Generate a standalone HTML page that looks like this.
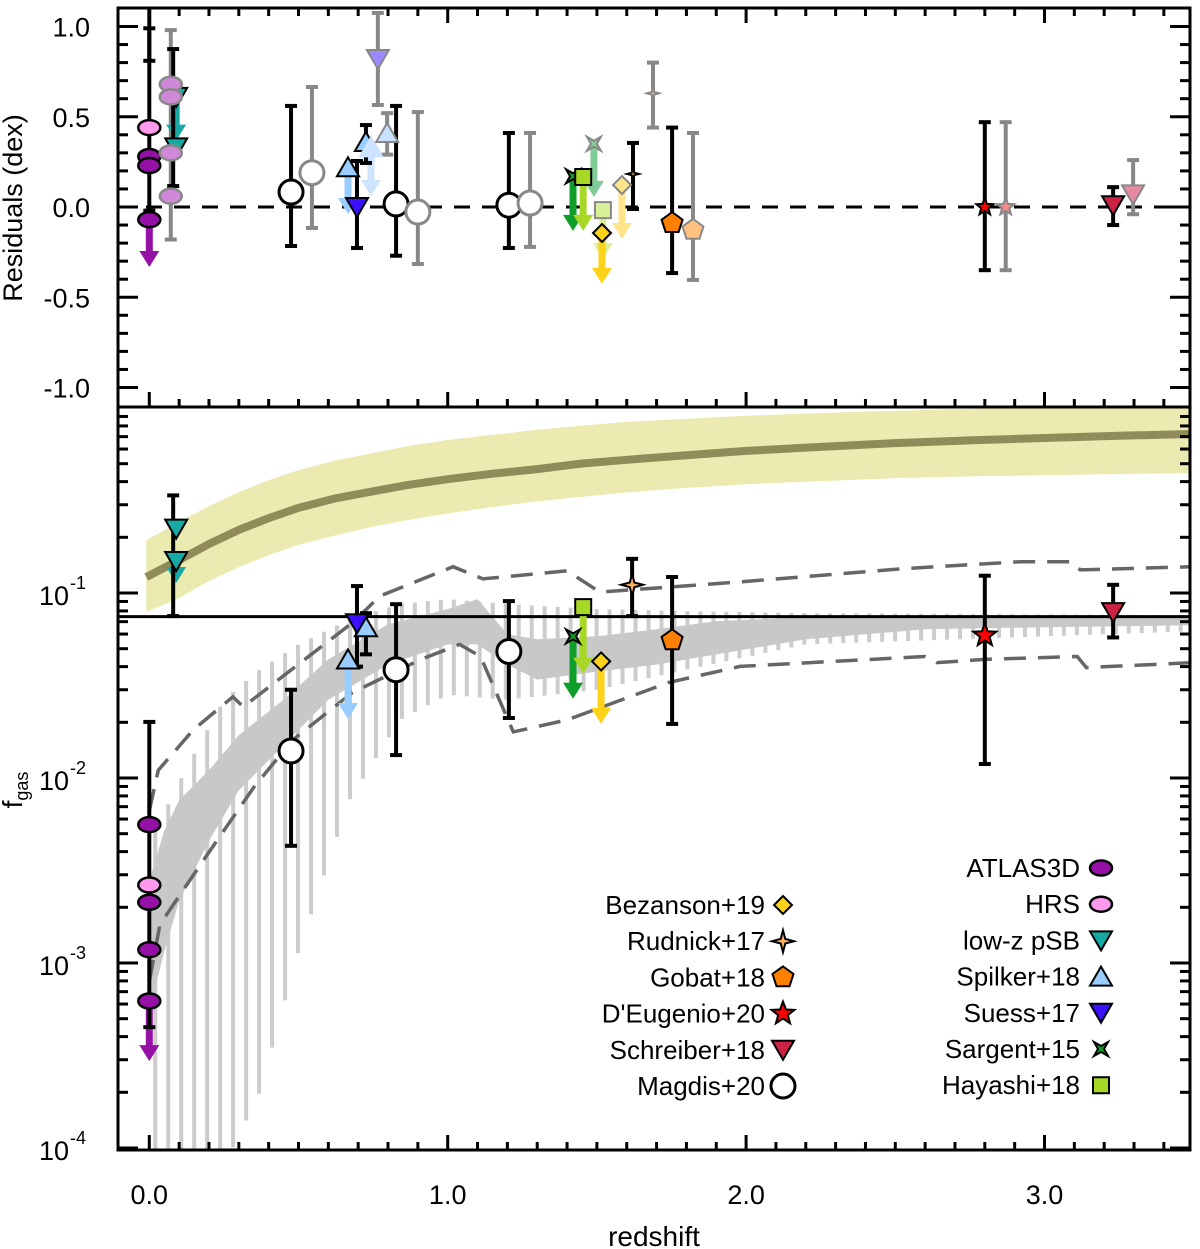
<!DOCTYPE html>
<html><head><meta charset="utf-8"><style>
html,body{margin:0;padding:0;background:#fff;}
svg{display:block;font-family:"Liberation Sans",Arial,sans-serif;}
</style></head><body>
<svg id="chart" width="1200" height="1249" viewBox="0 0 1200 1249" xmlns="http://www.w3.org/2000/svg">
<defs>
<clipPath id="clipTop"><rect x="118" y="8" width="1072" height="399"/></clipPath>
<clipPath id="clipBot"><rect x="118" y="407" width="1072" height="743"/></clipPath>
</defs>
<g id="gTop" clip-path="url(#clipTop)"></g>
<g id="gBot" clip-path="url(#clipBot)"></g>
<g id="gAxes"></g>
<g id="gLegend"></g>
</svg>
<script>
// ---------- data: lower panel (fgas) ----------
const lowZ   = [0.09, 0.09, 0, 0, 0, 0, 0, 0.475, 0.827, 1.205, 0.666, 0.726, 0.696, 1.42, 1.454, 1.514, 1.618, 1.752, 2.80, 3.23];
const lowF   = [0.223, 0.149, 0.0056, 0.00264, 0.00213, 0.00118, 0.000623, 0.0140, 0.0385, 0.0483, 0.0437, 0.0653, 0.0687, 0.0583, 0.0839, 0.0427, 0.1107, 0.0555, 0.059, 0.0788];
const lowMk  = ['tridown','tridown','ellipse','ellipse','ellipse','ellipse','ellipse','circle','circle','circle','triup','triup','tridown','sargent','square','diamond','star4','pentagon','star5','tridown'];
const lowSet = ['pSB','pSB','ATLAS3D','HRS','ATLAS3D','ATLAS3D','ATLAS3D','Magdis','Magdis','Magdis','Spilker','Spilker','Suess','Sargent','Hayashi','Bezanson','Rudnick','Gobat','DEugenio','Schreiber'];
const lowErrZ  = [0.08, 0, 0.475, 0.827, 1.205, 0.726, 0.696, 1.618, 1.752, 2.80, 3.23];
const lowErrLo = [0.075, 0.00045, 0.0043, 0.0133, 0.0211, 0.0466, 0.040, 0.075, 0.0196, 0.0119, 0.0575];
const lowErrHi = [0.337, 0.0201, 0.030, 0.087, 0.0904, 0.0778, 0.109, 0.153, 0.122, 0.124, 0.1107];
const lowArrZ    = [0.09, 0, 0.666, 1.42, 1.454, 1.514];
const lowArrFrom = [0.149, 0.000623, 0.0437, 0.0583, 0.0839, 0.0427];
const lowArrTo   = [0.119, 0.00031, 0.0219, 0.0282, 0.0385, 0.0206];
const lowArrSet  = ['pSB','ATLAS3D','Spilker','Sargent','Hayashi','Bezanson'];
const fgasLine = 0.0745;
// model band (log10 fgas)
const modelZ   = [-0.01, 0.1, 0.2, 0.3, 0.4, 0.5, 0.62, 0.75, 0.87, 1.0, 1.15, 1.3, 1.45, 1.6, 1.8, 2.0, 2.25, 2.5, 2.75, 3.0, 3.25, 3.5];
const modelMid = [-0.914, -0.822, -0.735, -0.659, -0.595, -0.540, -0.490, -0.450, -0.415, -0.385, -0.355, -0.330, -0.300, -0.280, -0.255, -0.232, -0.210, -0.190, -0.175, -0.162, -0.150, -0.140];
const modelHi  = [-0.714, -0.616, -0.530, -0.455, -0.390, -0.336, -0.285, -0.243, -0.205, -0.173, -0.145, -0.118, -0.095, -0.075, -0.058, -0.042, -0.027, -0.015, -0.005, 0.002, 0.005, 0.007];
const modelLo  = [-1.103, -1.027, -0.935, -0.860, -0.795, -0.740, -0.690, -0.641, -0.605, -0.570, -0.535, -0.505, -0.480, -0.456, -0.432, -0.412, -0.395, -0.379, -0.370, -0.363, -0.357, -0.352];
// simulation band (log10 fgas)
const simZ   = [0, 0.05, 0.1, 0.2, 0.3, 0.45, 0.6, 0.8, 1.0, 1.1, 1.2, 1.3, 1.5, 1.7, 1.9, 2.2, 2.6, 3.0, 3.5];
const simHi  = [-2.557, -2.285, -2.121, -1.958, -1.768, -1.577, -1.359, -1.169, -1.087, -1.033, -1.223, -1.250, -1.234, -1.196, -1.152, -1.131, -1.125, -1.125, -1.125];
const simLo  = [-3.265, -2.938, -2.666, -2.339, -2.067, -1.822, -1.577, -1.387, -1.278, -1.278, -1.387, -1.468, -1.425, -1.387, -1.332, -1.250, -1.196, -1.185, -1.174];
const simBarZ  = [0.02, 0.12, 0.25, 0.37, 0.5, 0.67, 0.84, 1.0, 1.2, 1.5, 1.8, 2.2, 3.5];
const simBarHi = [-2.285, -1.958, -1.577, -1.414, -1.278, -1.142, -1.06, -1.033, -1.06, -1.087, -1.098, -1.109, -1.120];
const simBarLo = [-4.1, -4.1, -4.1, -3.70, -2.938, -2.121, -1.686, -1.55, -1.577, -1.523, -1.414, -1.278, -1.207];
const dashUpZ = [0.0, 0.03, 0.147, 0.28, 0.315, 0.683, 0.773, 1.018, 1.118, 1.40, 1.51, 1.98, 2.52, 2.92, 3.09, 3.12, 3.5];
const dashUpL = [-2.176, -1.958, -1.740, -1.561, -1.615, -1.158, -1.016, -0.858, -0.924, -0.880, -0.995, -0.940, -0.869, -0.831, -0.831, -0.875, -0.858];
const dashLoZ = [0.0, 0.036, 0.18, 0.35, 0.48, 0.68, 0.91, 1.04, 1.11, 1.22, 1.40, 1.74, 1.98, 2.60, 2.64, 2.80, 3.11, 3.14, 3.5];
const dashLoL = [-3.10, -2.791, -2.448, -2.051, -1.795, -1.539, -1.359, -1.278, -1.343, -1.751, -1.686, -1.484, -1.397, -1.343, -1.376, -1.359, -1.343, -1.403, -1.376];

// ---------- data: upper panel (residuals) ----------
const resBlackZ  = [0, 0, 0.08, 0.475, 0.696, 0.726, 0.827, 1.205, 1.621, 1.752, 2.80, 3.23];
const resBlackLo = [-0.02, 0.81, 0.116, -0.216, -0.227, 0.244, -0.27, -0.227, -0.011, -0.366, -0.35, -0.10];
const resBlackHi = [1.2, 0.99, 0.875, 0.56, 0.255, 0.454, 0.56, 0.41, 0.355, 0.44, 0.47, 0.11];
const resGreyZ  = [0.072, 0.545, 0.797, 0.766, 0.90, 1.276, 1.688, 1.822, 2.87, 3.297];
const resGreyLo = [-0.18, -0.116, 0.29, 0.565, -0.316, -0.221, 0.44, -0.404, -0.35, -0.04];
const resGreyHi = [0.98, 0.665, 0.52, 1.075, 0.526, 0.41, 0.80, 0.41, 0.47, 0.26];
const resZ   = [0, 0, 0, 0, 0.09, 0.09, 0.475, 0.827, 1.205, 0.666, 0.726, 0.696, 1.42, 1.454, 1.517, 1.621, 1.752, 2.80, 3.23,
                0.072, 0.072, 0.072, 0.072, 0.545, 0.90, 1.276, 0.743, 0.797, 0.766, 1.49, 1.52, 1.584, 1.688, 1.822, 2.87, 3.297];
const resR   = [0.44, 0.28, 0.23, -0.07, 0.61, 0.33, 0.083, 0.017, 0.01, 0.22, 0.36, 0.0, 0.17, 0.166, -0.144, 0.183, -0.089, 0.0, 0.01,
                0.68, 0.61, 0.30, 0.06, 0.19, -0.028, 0.022, 0.33, 0.41, 0.82, 0.35, -0.017, 0.122, 0.63, -0.127, 0.0, 0.07];
const resMk  = ['ellipse','ellipse','ellipse','ellipse','tridown','tridown','circle','circle','circle','triup','triup','tridown','sargent','square','diamond','star4s','pentagon','star5s','tridown',
                'ellipse','ellipse','ellipse','ellipse','circle','circle','circle','triup','triup','tridown','sargent','square','diamond','star4s','pentagon','star5s','tridown'];
const resSet = ['HRS','ATLAS3D','ATLAS3D','ATLAS3D','pSB','pSB','Magdis','Magdis','Magdis','Spilker','Spilker','Suess','Sargent','Hayashi','Bezanson','Rudnick','Gobat','DEugenio','Schreiber',
                'gATLAS','gATLAS','gATLAS','gATLAS','gMagdis','gMagdis','gMagdis','gSpilker2','gSpilker','gSuess','gSargent','gHayashi','gBezanson','gRudnick','gGobat','gDEugenio','gSchreiber'];
const resArrZ    = [0, 0.09, 0.666, 0.743, 1.42, 1.454, 1.49, 1.52, 1.517, 1.584];
const resArrFrom = [-0.07, 0.61, 0.22, 0.33, 0.17, 0.166, 0.35, -0.017, -0.144, 0.122];
const resArrTo   = [-0.31, 0.39, -0.017, 0.083, -0.11, -0.11, 0.078, -0.266, -0.404, -0.155];
const resArrSet  = ['ATLAS3D','pSB','Spilker','gSpilker2','Sargent','Hayashi','gSargent','gHayashi','Bezanson','gBezanson'];

// legend
const legLeft  = ['Bezanson+19','Rudnick+17','Gobat+18',"D'Eugenio+20",'Schreiber+18','Magdis+20'];
const legLeftMk = ['diamond','star4','pentagon','star5','tridown','circle'];
const legLeftSet = ['Bezanson','Rudnick','Gobat','DEugenio','Schreiber','Magdis'];
const legRight = ['ATLAS3D','HRS','low-z pSB','Spilker+18','Suess+17','Sargent+15','Hayashi+18'];
const legRightMk = ['ellipse','ellipse','tridown','triup','tridown','sargent','square'];
const legRightSet = ['ATLAS3D','HRS','pSB','Spilker','Suess','Sargent','Hayashi'];

// ---------- styles ----------
const STY = {
  ATLAS3D:{f:'#9510a5',s:'#000'}, HRS:{f:'#ff99ee',s:'#000'}, pSB:{f:'#17aaa5',s:'#000'},
  Spilker:{f:'#99ccff',s:'#000'}, Suess:{f:'#3a10ff',s:'#000'}, Sargent:{f:'#0e9e2a',s:'#000'},
  Hayashi:{f:'#a8d826',s:'#000'}, Bezanson:{f:'#ffd21a',s:'#000'}, Rudnick:{f:'#ffb060',s:'#000'},
  Gobat:{f:'#ff8000',s:'#000'}, DEugenio:{f:'#ff0000',s:'#000'}, Schreiber:{f:'#cc2244',s:'#000'},
  Magdis:{f:'#fff',s:'#000'},
  gATLAS:{f:'#d088d8',s:'#888'}, gMagdis:{f:'#fff',s:'#888'}, gSpilker:{f:'#c8e2ff',s:'#888'},
  gSpilker2:{f:'#cce4ff',s:'#cce4ff'}, gSuess:{f:'#9f88ff',s:'#888'}, gSargent:{f:'#80cc98',s:'#888'},
  gHayashi:{f:'#d8f09a',s:'#888'}, gBezanson:{f:'#ffe48c',s:'#888'}, gRudnick:{f:'#ffc080',s:'#888'},
  gGobat:{f:'#ffc080',s:'#888'}, gDEugenio:{f:'#ff8888',s:'#888'}, gSchreiber:{f:'#e58aa0',s:'#888'}
};
const ARRC = {ATLAS3D:'#9510a5', pSB:'#17aaa5', Spilker:'#99ccff', gSpilker2:'#cce4ff', Sargent:'#0e9e2a',
  Hayashi:'#a8d826', gSargent:'#80cc98', gHayashi:'#d8f09a', Bezanson:'#ffd21a', gBezanson:'#ffe48c'};

// ---------- scales ----------
const X = z => 149.3 + z * 298.4;
const YT = r => 207 - r * 180.5;
const YL = l => 593 - (l + 1) * 185;
const YB = f => YL(Math.log10(f));

const NS = 'http://www.w3.org/2000/svg';
function el(parent, tag, attrs, name) {
  const e = document.createElementNS(NS, tag);
  for (const k in attrs) e.setAttribute(k, attrs[k]);
  
  
  parent.appendChild(e);
  return e;
}
const gTop = document.getElementById('gTop');
const gBot = document.getElementById('gBot');
const gAx = document.getElementById('gAxes');
const gLeg = document.getElementById('gLegend');

function marker(g, type, cx, cy, st, name) {
  const sw = 2;
  let p;
  if (type === 'ellipse') return el(g, 'ellipse', {cx, cy, rx: 11, ry: 7.5, fill: st.f, stroke: st.s, 'stroke-width': 2.5}, name);
  if (type === 'circle') return el(g, 'circle', {cx, cy, r: 12, fill: st.f, stroke: st.s, 'stroke-width': 3}, name);
  if (type === 'tridown') p = [[cx-11,cy-9],[cx+11,cy-9],[cx,cy+10]];
  else if (type === 'triup') p = [[cx-11,cy+9],[cx+11,cy+9],[cx,cy-10]];
  else if (type === 'diamond') p = [[cx,cy-9],[cx+9,cy],[cx,cy+9],[cx-9,cy]];
  else if (type === 'square') p = [[cx-8,cy-8],[cx+8,cy-8],[cx+8,cy+8],[cx-8,cy+8]];
  else if (type === 'star4' || type === 'star4s') {
    const R = type === 'star4' ? 11 : 6, r = R * 0.3; p = [];
    for (let i = 0; i < 8; i++) { const a = i * Math.PI / 4 - Math.PI/2, rr = i % 2 ? r : R; p.push([cx + rr*Math.cos(a), cy + rr*Math.sin(a)]); }
  } else if (type === 'star5' || type === 'star5s') {
    const R = type === 'star5' ? 12 : 9, r = R * 0.42; p = [];
    for (let i = 0; i < 10; i++) { const a = i * Math.PI / 5 - Math.PI/2, rr = i % 2 ? r : R; p.push([cx + rr*Math.cos(a), cy + rr*Math.sin(a)]); }
  } else if (type === 'pentagon') {
    p = []; for (let i = 0; i < 5; i++) { const a = i * 2*Math.PI/5 - Math.PI/2; p.push([cx + 11*Math.cos(a), cy + 11*Math.sin(a)]); }
  } else if (type === 'sargent') {
    p = [[cx-7,cy-7],[cx,cy-3],[cx+7,cy-7],[cx+3,cy],[cx+7,cy+7],[cx,cy+3],[cx-7,cy+7],[cx-3,cy]];
  }
  return el(g, 'polygon', {points: p.map(q => q[0].toFixed(1)+','+q[1].toFixed(1)).join(' '), fill: st.f, stroke: st.s, 'stroke-width': sw, 'stroke-linejoin': 'miter'}, name);
}
function errbar(g, x, y1, y2, col, name) {
  el(g, 'line', {x1: x, x2: x, y1, y2, stroke: col, 'stroke-width': 4}, name);
  el(g, 'line', {x1: x-6, x2: x+6, y1, y2: y1, stroke: col, 'stroke-width': 4}, name + '-cap-top');
  el(g, 'line', {x1: x-6, x2: x+6, y1: y2, y2, stroke: col, 'stroke-width': 4}, name + '-cap-bottom');
}
function arrow(g, x, y1, y2, col, name) {
  el(g, 'line', {x1: x, x2: x, y1, y2: y2 - 8, stroke: col, 'stroke-width': 7}, name);
  el(g, 'polygon', {points: `${x-10},${y2-12} ${x+10},${y2-12} ${x},${y2+4}`, fill: col}, name + '-head');
}
function interp(xs, ys, x) {
  if (x <= xs[0]) return ys[0];
  for (let i = 1; i < xs.length; i++) if (x <= xs[i]) { const t = (x - xs[i-1]) / (xs[i] - xs[i-1]); return ys[i-1] + t * (ys[i] - ys[i-1]); }
  return ys[ys.length-1];
}

// ---------- lower panel ----------
{
  let d = modelZ.map((z,i) => (i?'L':'M') + X(z).toFixed(1) + ',' + YL(modelHi[i]).toFixed(1)).join(' ');
  for (let i = modelZ.length - 1; i >= 0; i--) d += ' L' + X(modelZ[i]).toFixed(1) + ',' + YL(modelLo[i]).toFixed(1);
  el(gBot, 'path', {d: d + ' Z', fill: '#ebeab0'}, 'model-band');
  el(gBot, 'path', {d: modelZ.map((z,i) => (i?'L':'M') + X(z).toFixed(1) + ',' + YL(modelMid[i]).toFixed(1)).join(' '), fill: 'none', stroke: '#8f8c5a', 'stroke-width': 8, 'stroke-linejoin': 'round'}, 'model-line');
}
for (let z = 0.02; z <= 3.5; z += 0.0435) {
  const bar = el(gBot, 'line', {x1: X(z), x2: X(z), y1: YL(interp(simBarZ, simBarHi, z)), y2: YL(interp(simBarZ, simBarLo, z)), stroke: '#cccccc', 'stroke-width': 4}, 'sim-uncertainty-bar');
}
{
  let d = simZ.map((z,i) => (i?'L':'M') + X(z).toFixed(1) + ',' + YL(simHi[i]).toFixed(1)).join(' ');
  for (let i = simZ.length - 1; i >= 0; i--) d += ' L' + X(simZ[i]).toFixed(1) + ',' + YL(simLo[i]).toFixed(1);
  el(gBot, 'path', {d: d + ' Z', fill: '#c8c8c8'}, 'simulation-band');
  el(gBot, 'path', {d: dashUpZ.map((z,i) => (i?'L':'M') + X(z).toFixed(1) + ',' + YL(dashUpL[i]).toFixed(1)).join(' '), fill: 'none', stroke: '#666', 'stroke-width': 3.5, 'stroke-dasharray': '22,12'}, 'sim-upper-dashed');
  el(gBot, 'path', {d: dashLoZ.map((z,i) => (i?'L':'M') + X(z).toFixed(1) + ',' + YL(dashLoL[i]).toFixed(1)).join(' '), fill: 'none', stroke: '#666', 'stroke-width': 3.5, 'stroke-dasharray': '22,12'}, 'sim-lower-dashed');
}
el(gBot, 'line', {x1: 118, x2: 1190, y1: YB(fgasLine), y2: YB(fgasLine), stroke: '#000', 'stroke-width': 3}, 'reference-fgas-line');
lowArrZ.forEach((z, i) => arrow(gBot, X(z), YB(lowArrFrom[i]), YB(lowArrTo[i]), ARRC[lowArrSet[i]], 'upper-limit-arrow-' + lowArrSet[i].toLowerCase()));
lowErrZ.forEach((z, i) => errbar(gBot, X(z), YB(lowErrHi[i]), YB(lowErrLo[i]), '#000', 'fgas-error-bar'));
lowZ.forEach((z, i) => marker(gBot, lowMk[i], X(z), YB(lowF[i]), STY[lowSet[i]], 'fgas-point-' + lowSet[i].toLowerCase()));

// ---------- upper panel ----------
el(gTop, 'line', {x1: 118, x2: 1190, y1: YT(0), y2: YT(0), stroke: '#000', 'stroke-width': 3, 'stroke-dasharray': '16,12'}, 'zero-residual-line');
resGreyZ.forEach((z, i) => errbar(gTop, X(z), YT(resGreyHi[i]), YT(resGreyLo[i]), '#888', 'residual-error-bar-grey'));
resArrZ.forEach((z, i) => arrow(gTop, X(z), YT(resArrFrom[i]), YT(resArrTo[i]), ARRC[resArrSet[i]], 'residual-arrow-' + resArrSet[i].toLowerCase()));
resBlackZ.forEach((z, i) => errbar(gTop, X(z), YT(resBlackHi[i]), YT(resBlackLo[i]), '#000', 'residual-error-bar'));
resZ.forEach((z, i) => marker(gTop, resMk[i], X(z), YT(resR[i]), STY[resSet[i]], 'residual-point-' + resSet[i].toLowerCase()));

// ---------- axes ----------
el(gAx, 'rect', {x: 118, y: 8, width: 1072, height: 1142, fill: 'none', stroke: '#000', 'stroke-width': 3}, 'plot-frame');
el(gAx, 'line', {x1: 118, x2: 1190, y1: 407, y2: 407, stroke: '#000', 'stroke-width': 3}, 'panel-divider');
function tick(x1, y1, x2, y2, name) { el(gAx, 'line', {x1, y1, x2, y2, stroke: '#000', 'stroke-width': 3}, name); }
for (let k = -1; k <= 35; k++) {
  const z = k / 10; const x = X(z); if (x < 120 || x > 1188) continue;
  const L = k % 10 === 0 ? 15 : 8;
  tick(x, 8, x, 8 + L, 'x-tick-top');
  tick(x, 407, x, 407 - L, 'x-tick-mid');
  tick(x, 1150, x, 1150 - L, 'x-tick-bottom');
}
const xTickVals = [0, 1, 2, 3];
const xTickLbl = ['0.0', '1.0', '2.0', '3.0'];
xTickVals.forEach((v, i) => { const t = el(gAx, 'text', {x: X(v), y: 1204, 'font-size': 27, 'text-anchor': 'middle'}, 'x-tick-label'); t.textContent = xTickLbl[i]; });
const xt = el(gAx, 'text', {x: 654, y: 1246, 'font-size': 28, 'text-anchor': 'middle'}, 'x-axis-title'); xt.textContent = 'redshift';
for (let k = -11; k <= 11; k++) {
  const y = YT(k / 10); if (y < 10 || y > 405) continue;
  const L = k % 5 === 0 ? 20 : 10;
  tick(118, y, 118 + L, y, 'y-tick-residual');
  tick(1190, y, 1190 - L, y, 'y-tick-residual-right');
}
const rTickVals = [1, 0.5, 0, -0.5, -1];
const rTickLbl = ['1.0', '0.5', '0.0', '-0.5', '-1.0'];
rTickVals.forEach((v, i) => { const t = el(gAx, 'text', {x: 90, y: YT(v) + 10, 'font-size': 27, 'text-anchor': 'end'}, 'y-tick-label-residual'); t.textContent = rTickLbl[i]; });
const yt1 = el(gAx, 'text', {x: 22, y: 208, 'font-size': 27, 'text-anchor': 'middle', transform: 'rotate(-90 22 208)'}, 'y-axis-title-residuals'); yt1.textContent = 'Residuals (dex)';
for (let d = -5; d <= 0; d++) for (let m = 1; m <= 9; m++) {
  const y = YL(d + Math.log10(m)); if (y < 409 || y > 1149) continue;
  const L = m === 1 ? 20 : 10;
  tick(118, y, 118 + L, y, 'y-tick-fgas');
  tick(1190, y, 1190 - L, y, 'y-tick-fgas-right');
}
const fTickExp = [-1, -2, -3, -4];
fTickExp.forEach(e => {
  const t = el(gAx, 'text', {x: 69, y: YL(e) + 12, 'font-size': 27, 'text-anchor': 'end'}, 'y-tick-label-fgas'); t.textContent = '10';
  const s = el(gAx, 'text', {x: 70, y: YL(e) - 4, 'font-size': 18, 'text-anchor': 'start'}, 'y-tick-label-exponent'); s.textContent = String(e);
});
const yt2 = el(gAx, 'text', {x: 22, y: 790, 'font-size': 28, 'text-anchor': 'middle', transform: 'rotate(-90 22 790)'}, 'y-axis-title-fgas');
yt2.innerHTML = 'f<tspan font-size="18" dy="6">gas</tspan>';

// ---------- legend ----------
legLeft.forEach((s, i) => {
  const y = 905 + i * 36.2;
  const t = el(gLeg, 'text', {x: 765, y: y + 9, 'font-size': 26, 'text-anchor': 'end'}, 'legend-label'); t.textContent = s;
  marker(gLeg, legLeftMk[i], 783, y, STY[legLeftSet[i]], 'legend-marker');
});
legRight.forEach((s, i) => {
  const y = 868 + i * 36.2;
  const t = el(gLeg, 'text', {x: 1080, y: y + 9, 'font-size': 26, 'text-anchor': 'end'}, 'legend-label'); t.textContent = s;
  marker(gLeg, legRightMk[i], 1101, y, STY[legRightSet[i]], 'legend-marker');
});
</script>
</body></html>
